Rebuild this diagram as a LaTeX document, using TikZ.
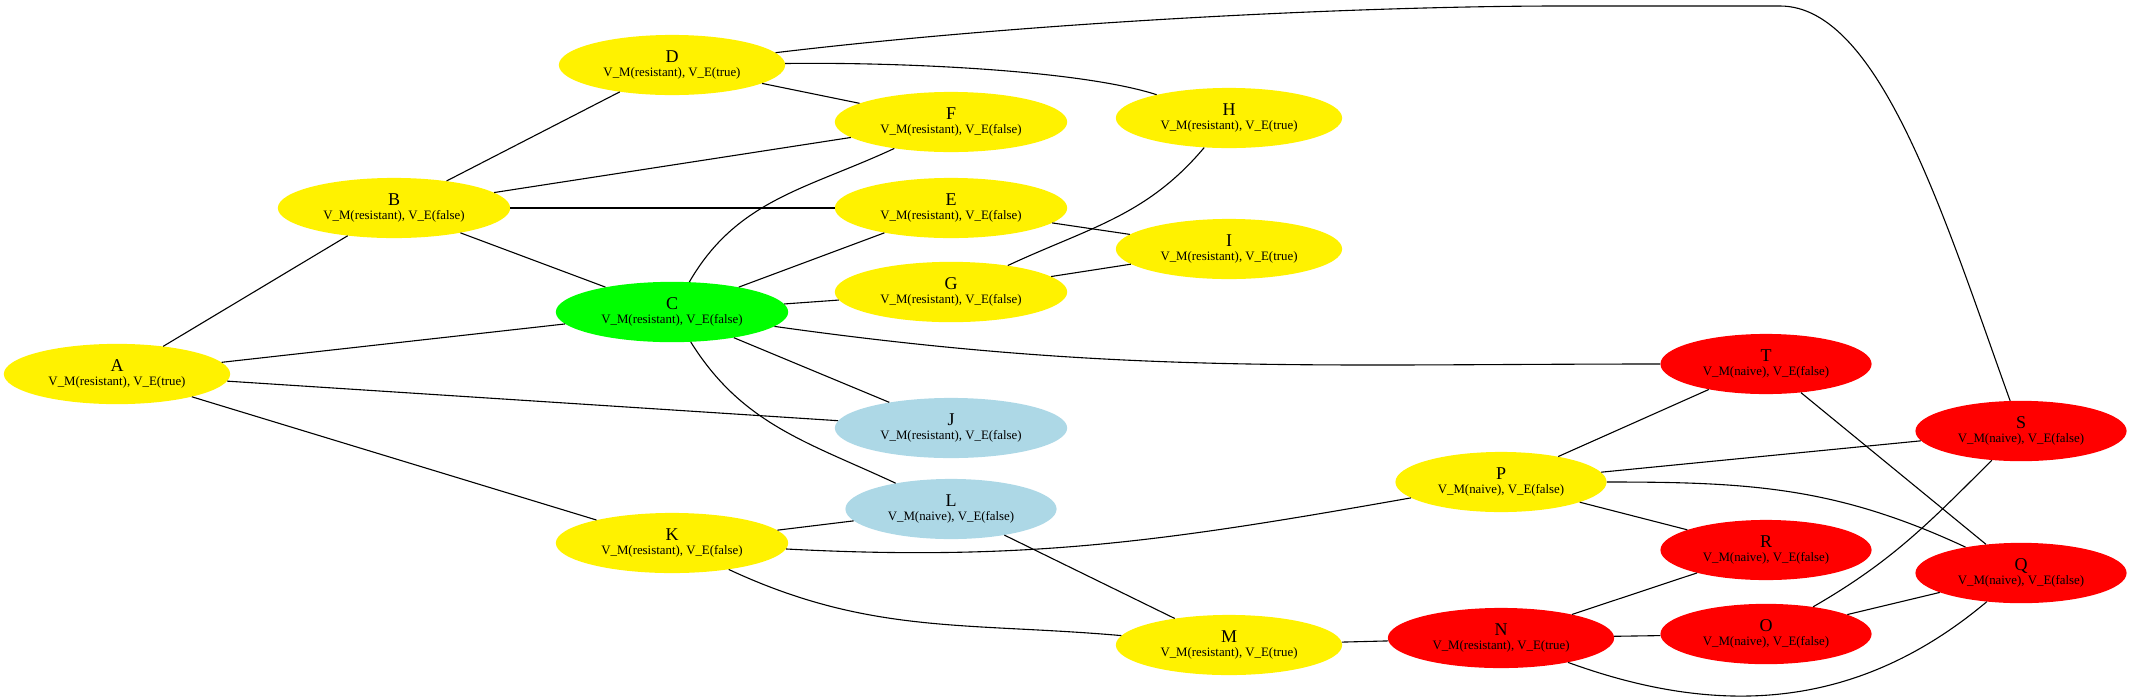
\documentclass[tikz,border=0pt]{standalone}
\usepackage{fontspec}
\setmainfont{Liberation Serif}
\usetikzlibrary{shapes.geometric}
\definecolor{lightblue}{HTML}{ADD8E6}
\begin{document}
\begin{tikzpicture}[x=1pt, y=-1pt,
  state/.style={ellipse, draw=none, align=center, inner xsep=11.5pt, inner ysep=7pt,
    font=\fontsize{12.85}{14}\selectfont},
  yel/.style={state, fill=yellow},
  grn/.style={state, fill=green},
  blu/.style={state, fill=lightblue},
  rd/.style={state, fill=red},
  edge/.style={line width=1.1pt}]
  \useasboundingbox (0,0) rectangle (2130,697);
  % nodes
  \node[yel] (A) at (117,374) {{\fontsize{18}{14}\selectfont A}\\V\_M(resistant), V\_E(true)};
  \node[yel] (B) at (394,208) {{\fontsize{18}{14}\selectfont B}\\V\_M(resistant), V\_E(false)};
  \node[grn] (C) at (672,312) {{\fontsize{18}{14}\selectfont C}\\V\_M(resistant), V\_E(false)};
  \node[yel] (D) at (672,65) {{\fontsize{18}{14}\selectfont D}\\V\_M(resistant), V\_E(true)};
  \node[yel] (F) at (951,122) {{\fontsize{18}{14}\selectfont F}\\V\_M(resistant), V\_E(false)};
  \node[yel] (E) at (951,208) {{\fontsize{18}{14}\selectfont E}\\V\_M(resistant), V\_E(false)};
  \node[yel] (G) at (951,292) {{\fontsize{18}{14}\selectfont G}\\V\_M(resistant), V\_E(false)};
  \node[blu] (J) at (951,428) {{\fontsize{18}{14}\selectfont J}\\V\_M(resistant), V\_E(false)};
  \node[blu] (L) at (951,509) {{\fontsize{18}{14}\selectfont L}\\V\_M(naive), V\_E(false)};
  \node[yel] (K) at (672,543) {{\fontsize{18}{14}\selectfont K}\\V\_M(resistant), V\_E(false)};
  \node[yel] (H) at (1229,118) {{\fontsize{18}{14}\selectfont H}\\V\_M(resistant), V\_E(true)};
  \node[yel] (I) at (1229,249) {{\fontsize{18}{14}\selectfont I}\\V\_M(resistant), V\_E(true)};
  \node[yel] (M) at (1229,645) {{\fontsize{18}{14}\selectfont M}\\V\_M(resistant), V\_E(true)};
  \node[rd] (N) at (1501,638) {{\fontsize{18}{14}\selectfont N}\\V\_M(resistant), V\_E(true)};
  \node[yel] (P) at (1501,482) {{\fontsize{18}{14}\selectfont P}\\V\_M(naive), V\_E(false)};
  \node[rd] (T) at (1766,364) {{\fontsize{18}{14}\selectfont T}\\V\_M(naive), V\_E(false)};
  \node[rd] (R) at (1766,550) {{\fontsize{18}{14}\selectfont R}\\V\_M(naive), V\_E(false)};
  \node[rd] (O) at (1766,634) {{\fontsize{18}{14}\selectfont O}\\V\_M(naive), V\_E(false)};
  \node[rd] (S) at (2021,431) {{\fontsize{18}{14}\selectfont S}\\V\_M(naive), V\_E(false)};
  \node[rd] (Q) at (2021,573) {{\fontsize{18}{14}\selectfont Q}\\V\_M(naive), V\_E(false)};
  % edges
  \draw[edge] (A) -- (B);
  \draw[edge] (A) -- (C);
  \draw[edge] (A) -- (J);
  \draw[edge] (A) -- (K);
  \draw[edge] (B) -- (D);
  \draw[edge] (B) -- (F);
  \draw[edge] (B) -- (E);
  \draw[edge] (B) -- (C);
  \draw[edge] (D) -- (F);
  \draw[edge] (D) .. controls (900,62) and (1080,70) .. (H);
  \draw[edge] (D) .. controls (1050,20) and (1380,6) .. (1560,6) -- (1780,6)
    .. controls (1880,6) and (1945,220) .. (S);
  \draw[edge] (C) to[out=60, in=205] (F);
  \draw[edge] (C) -- (E);
  \draw[edge] (C) -- (G);
  \draw[edge] (C) -- (J);
  \draw[edge] (C) to[out=-58, in=155] (L);
  \draw[edge] (C) to[out=-8, in=180] (T);
  \draw[edge] (E) -- (I);
  \draw[edge] (G) -- (I);
  \draw[edge] (G) to[out=25, in=230] (H);
  \draw[edge] (K) -- (L);
  \draw[edge] (K) to[out=-3, in=190] (P);
  \draw[edge] (K) to[out=-25, in=175] (M);
  \draw[edge] (L) -- (M);
  \draw[edge] (M) -- (N);
  \draw[edge] (N) -- (R);
  \draw[edge] (N) -- (O);
  \draw[edge] (N) to[out=-20, in=220] (Q);
  \draw[edge] (O) to[out=30, in=225] (S);
  \draw[edge] (O) -- (Q);
  \draw[edge] (P) -- (T);
  \draw[edge] (P) -- (S);
  \draw[edge] (P) -- (R);
  \draw[edge] (P) to[out=0, in=155] (Q);
  \draw[edge] (T) -- (Q);
\end{tikzpicture}
\end{document}
